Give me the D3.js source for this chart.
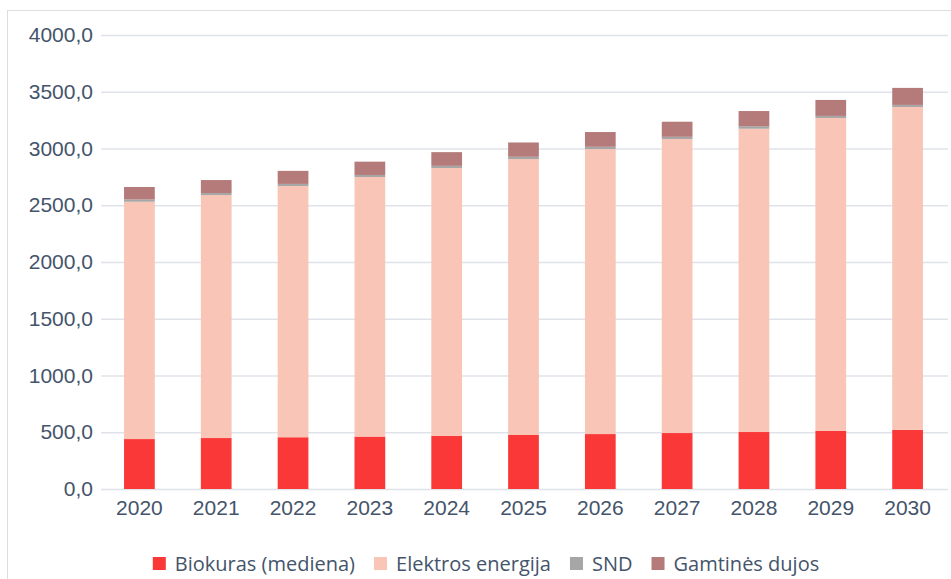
<!DOCTYPE html>
<html>
<head>
  <meta charset="utf-8">
  <script src="https://cdn.jsdelivr.net/npm/d3@7"></script>
  <style>
    body { margin: 0; background: #fff; }
    svg { font-family: "Open Sans", sans-serif; }
    .tick text { fill: #44546A; }
  </style>
</head>
<body>
<script>
  // data
  const years = ["2020", "2021", "2022", "2023", "2024", "2025", "2026", "2027", "2028", "2029", "2030"];
  const biokuras = [440, 449, 456, 462, 469, 476, 484, 493, 502, 511, 521];
  const elektros = [2091, 2141, 2214, 2287, 2359, 2431, 2511, 2591, 2672, 2758, 2845];
  const snd = [20, 18, 18, 18, 19, 20, 20, 19, 22, 18, 18];
  const dujos = [110, 114, 115, 117, 121, 126, 130, 133, 134, 141, 150];
  const yTicks = [0, 500, 1000, 1500, 2000, 2500, 3000, 3500, 4000];

  const seriesNames = ["Biokuras (mediena)", "Elektros energija", "SND", "Gamtinės dujos"];
  const colors = ["#FA3838", "#F8C5B6", "#A6A6A6", "#B47B7A"];
  const seriesValues = [biokuras, elektros, snd, dujos];

  const w = 951, h = 579;
  const plotLeft = 101, plotRight = 946, plotTop = 35, plotBottom = 489;

  const rows = years.map(function (y, i) {
    const r = { year: y };
    seriesNames.forEach(function (s, k) { r[s] = seriesValues[k][i]; });
    return r;
  });
  const stacked = d3.stack().keys(seriesNames)(rows);

  const svg = d3.select("body").append("svg")
    .attr("width", w)
    .attr("height", h);

  // frame round the chart
  svg.append("rect")
    .attr("x", 7.5).attr("y", 10.5)
    .attr("width", 1000).attr("height", 700)
    .attr("fill", "none")
    .attr("stroke", "#DDDDDD");

  const xScale = d3.scaleBand()
    .domain(years)
    .range([plotLeft, plotRight])
    .paddingInner(0.6)
    .paddingOuter(0.3);

  const yScale = d3.scaleLinear()
    .domain([0, 4000])
    .range([plotBottom, plotTop]);

  // y axis with gridlines
  const yAxis = d3.axisLeft(yScale)
    .tickValues(yTicks)
    .tickSize(-(plotRight - plotLeft + 2))
    .tickFormat(function (d) { return d3.format(".1f")(d).replace(".", ","); });

  const gy = svg.append("g")
    .attr("transform", "translate(" + plotLeft + ",0)")
    .call(yAxis);
  gy.select(".domain").remove();
  gy.selectAll(".tick line")
    .attr("stroke", "#DFE3E9")
    .attr("stroke-width", 1.5);
  gy.selectAll(".tick text")
    .attr("font-size", "21px")
    .attr("x", -8);

  // stacked bars
  svg.append("g").selectAll("g")
    .data(stacked)
    .enter()
    .append("g")
    .attr("fill", function (d, i) { return colors[i]; })
    .selectAll("rect")
    .data(function (d) { return d; })
    .enter()
    .append("rect")
    .attr("x", function (d) { return xScale(d.data.year); })
    .attr("width", xScale.bandwidth())
    .attr("y", function (d) { return yScale(d[1]); })
    .attr("height", function (d) { return yScale(d[0]) - yScale(d[1]); });

  // x axis
  const gx = svg.append("g")
    .attr("transform", "translate(0," + plotBottom + ")")
    .call(d3.axisBottom(xScale).tickSize(0).tickPadding(11));
  gx.select(".domain").remove();
  gx.selectAll(".tick text").attr("font-size", "21px");

  // legend
  const legend = svg.append("g");
  let lx = 0;
  seriesNames.forEach(function (name, i) {
    const g = legend.append("g");
    g.append("rect")
      .attr("x", 0).attr("y", -7)
      .attr("width", 13).attr("height", 13)
      .attr("fill", colors[i]);
    const t = g.append("text")
      .attr("x", 22).attr("y", 0)
      .attr("dy", "0.35em")
      .attr("font-size", "20px")
      .attr("fill", "#44546A")
      .text(name);
    g.attr("transform", "translate(" + lx + ",0)");
    lx += 22 + t.node().getComputedTextLength() + 19;
  });
  const totalW = lx - 19;
  legend.attr("transform", "translate(" + (486 - totalW / 2) + ",564)");
</script>
</body>
</html>
